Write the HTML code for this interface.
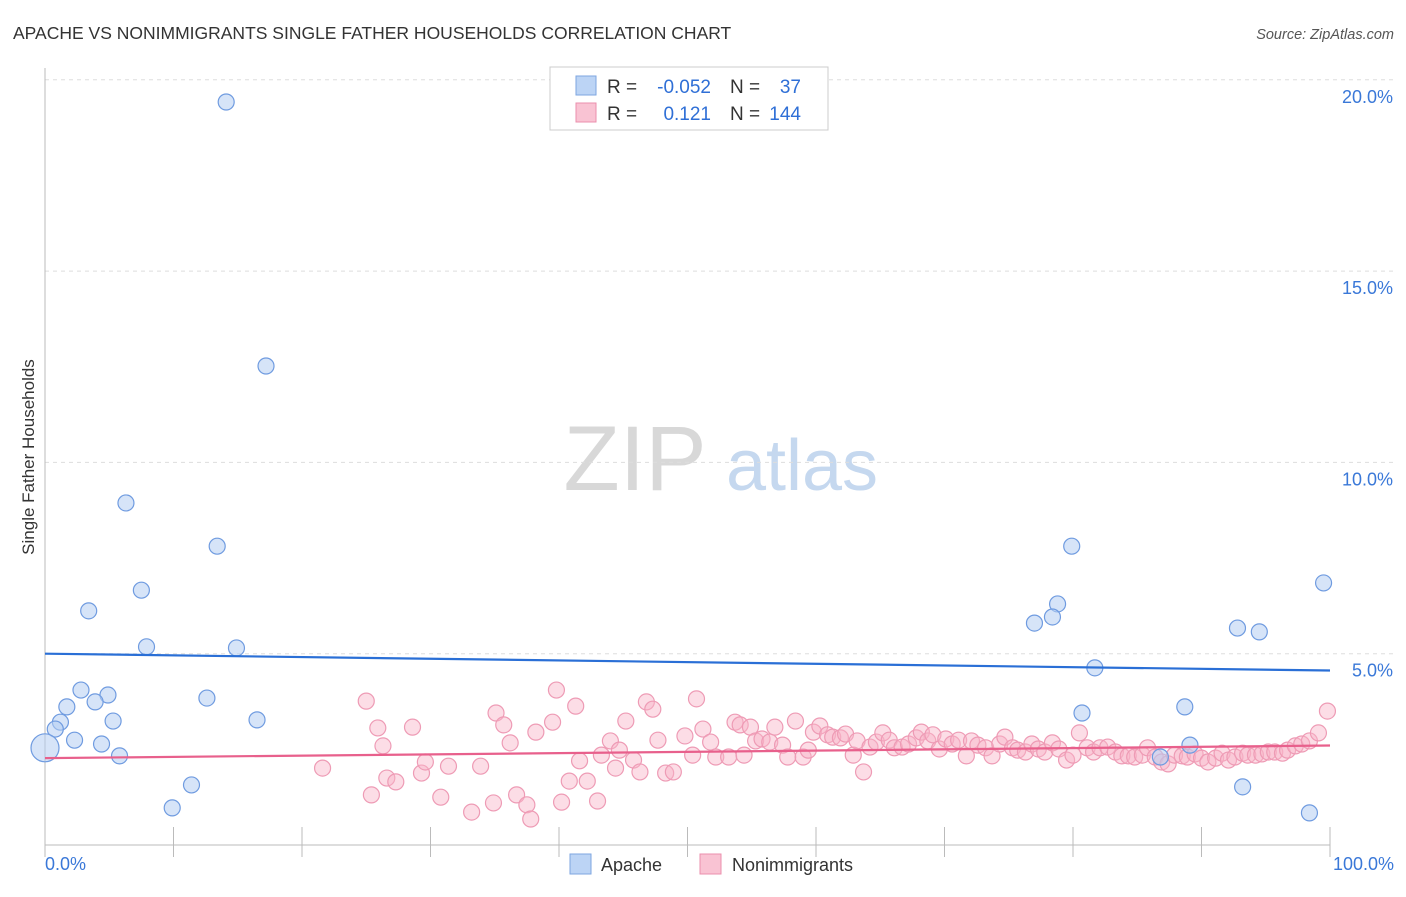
<!DOCTYPE html>
<html><head><meta charset="utf-8"><style>
body{margin:0;background:#fff;font-family:"Liberation Sans",sans-serif;}
svg text{font-family:"Liberation Sans",sans-serif;}
</style></head><body>
<svg id="chart" width="1406" height="892" xmlns="http://www.w3.org/2000/svg">
<text x="13" y="39" font-size="17.5" fill="#333">APACHE VS NONIMMIGRANTS SINGLE FATHER HOUSEHOLDS CORRELATION CHART</text>
<text x="1394" y="39" font-size="14.5" fill="#555" text-anchor="end" font-style="italic">Source: ZipAtlas.com</text>
<g>
<text x="635" y="490" font-size="92" fill="#d8d8d8" text-anchor="middle" font-family="Liberation Serif, serif">ZIP</text>
<text x="802" y="490" font-size="72" fill="#c5d8ef" text-anchor="middle">atlas</text>
</g>
<g id="grid"></g>
<g id="axes"></g>
<text transform="translate(34,457) rotate(-90)" font-size="17" fill="#333" text-anchor="middle">Single Father Households</text>
<g id="pts"></g>
<g id="trend"></g>
<g>
<rect x="550" y="67" width="278" height="63" fill="#fff" stroke="#ccc"/>
<rect x="576" y="76" width="20" height="19" fill="#bcd4f5" stroke="#7ea6e0"/>
<rect x="576" y="103" width="20" height="19" fill="#f9c3d3" stroke="#eb8fac"/>
<text x="607" y="93" font-size="19" fill="#333">R = </text><text x="711" y="93" font-size="19" fill="#2f6fd6" text-anchor="end">-0.052</text>
<text x="730" y="93" font-size="19" fill="#333">N = </text><text x="801" y="93" font-size="19" fill="#2f6fd6" text-anchor="end">37</text>
<text x="607" y="120" font-size="19" fill="#333">R = </text><text x="711" y="120" font-size="19" fill="#2f6fd6" text-anchor="end">0.121</text>
<text x="730" y="120" font-size="19" fill="#333">N = </text><text x="801" y="120" font-size="19" fill="#2f6fd6" text-anchor="end">144</text>
</g>
<g>
<rect x="570" y="854" width="21" height="20" fill="#bcd4f5" stroke="#7ea6e0"/>
<text x="601" y="871" font-size="18" fill="#333">Apache</text>
<rect x="700" y="854" width="21" height="20" fill="#f9c3d3" stroke="#eb8fac"/>
<text x="732" y="871" font-size="18" fill="#333">Nonimmigrants</text>
</g>
</svg>
<script>
const yTicks=[5,10,15,20];
const yTickLabels=["5.0%","10.0%","15.0%","20.0%"];
const xTickLabels=["0.0%","100.0%"];
const apacheX=[14.1,17.2,6.3,13.4,7.5,3.4,7.9,14.9,2.8,4.9,1.7,3.9,12.6,1.2,0.8,5.3,16.5,2.3,4.4,5.8,11.4,9.9,0,79.9,78.8,78.4,77.0,81.7,80.7,88.7,89.1,86.8,92.8,94.5,99.5,93.2,98.4];
const apacheY=[19.42,12.52,8.94,7.81,6.66,6.12,5.18,5.15,4.05,3.92,3.61,3.74,3.84,3.21,3.03,3.24,3.27,2.74,2.64,2.33,1.57,0.97,2.54,7.81,6.30,5.96,5.80,4.63,3.45,3.61,2.61,2.30,5.67,5.57,6.85,1.52,0.84];
const nonX=[21.6,25.0,25.4,25.9,26.3,26.6,27.3,28.6,29.3,29.6,30.8,31.4,33.2,33.9,34.9,35.1,35.7,36.2,36.7,37.5,37.8,38.2,39.5,39.8,40.2,40.8,41.3,41.6,42.2,43.0,43.3,44.0,44.4,44.7,45.2,45.8,46.3,46.8,47.3,47.7,48.3,48.9,49.8,50.4,50.7,51.2,51.8,52.2,53.2,53.7,54.1,54.4,54.9,55.3,55.8,56.4,56.8,57.4,57.8,58.4,59.0,59.4,59.8,60.3,60.9,61.3,61.9,62.3,62.9,63.2,63.7,64.2,64.7,65.2,65.7,66.1,66.7,67.2,67.8,68.2,68.7,69.1,69.6,70.1,70.6,71.1,71.7,72.1,72.6,73.2,73.7,74.3,74.7,75.3,75.7,76.3,76.8,77.3,77.8,78.4,78.9,79.5,80.0,80.5,81.1,81.6,82.1,82.7,83.3,83.8,84.3,84.8,85.4,85.8,86.4,86.9,87.4,87.9,88.5,88.9,89.5,90.0,90.5,91.1,91.6,92.1,92.6,93.2,93.6,94.2,94.7,95.2,95.7,96.3,96.7,97.3,97.8,98.4,99.1,99.8];
const nonY=[2.01,3.76,1.31,3.06,2.59,1.75,1.65,3.08,1.88,2.17,1.25,2.06,0.86,2.06,1.10,3.45,3.14,2.67,1.31,1.05,0.68,2.95,3.21,4.05,1.12,1.67,3.63,2.20,1.67,1.15,2.35,2.72,2.01,2.48,3.24,2.22,1.91,3.74,3.55,2.74,1.88,1.91,2.85,2.35,3.82,3.03,2.69,2.30,2.30,3.21,3.14,2.35,3.08,2.72,2.77,2.69,3.08,2.61,2.30,3.24,2.30,2.48,2.95,3.11,2.88,2.82,2.80,2.90,2.35,2.72,1.91,2.56,2.69,2.93,2.74,2.54,2.56,2.64,2.80,2.95,2.72,2.88,2.51,2.77,2.64,2.74,2.33,2.72,2.61,2.54,2.33,2.64,2.82,2.54,2.48,2.43,2.64,2.51,2.43,2.67,2.51,2.22,2.35,2.93,2.54,2.43,2.54,2.56,2.43,2.33,2.33,2.30,2.35,2.54,2.30,2.17,2.12,2.35,2.33,2.30,2.38,2.27,2.17,2.27,2.40,2.22,2.30,2.40,2.35,2.35,2.38,2.43,2.43,2.40,2.48,2.59,2.64,2.72,2.93,3.50];
const apacheTrend=[5.00,4.56];
const nonTrend=[2.27,2.60];
const NS="http://www.w3.org/2000/svg";
const X0=45,X1=1330,Y0=845,PX5=191.3;
const sx=v=>X0+(X1-X0)*v/100;
const sy=v=>Y0-PX5*v/5;
function mk(tag,attrs,parent){const e=document.createElementNS(NS,tag);for(const k in attrs)e.setAttribute(k,attrs[k]);document.getElementById(parent).appendChild(e);return e;}
yTicks.forEach((t,i)=>{
 const g=mk('line',{x1:X0,x2:1394,y1:sy(t),y2:sy(t),stroke:'#ddd','stroke-dasharray':'4,4'},'grid');
 
 
 const l=mk('text',{x:1393,y:sy(t)+23,'font-size':18,fill:'#3a78d8','text-anchor':'end'},'axes');
 l.textContent=yTickLabels[i];
 
 
});
const ax=mk('line',{x1:X0,x2:X0,y1:68,y2:Y0,stroke:'#bbb'},'axes');


const bx=mk('line',{x1:X0,x2:X1,y1:Y0,y2:Y0,stroke:'#bbb'},'axes');


for(let i=0;i<=10;i++){const t=mk('line',{x1:sx(i*10),x2:sx(i*10),y1:Y0-18,y2:Y0+12,stroke:'#bbb'},'axes');
 
 }
[[0,'start',45],[1,'end',1394]].forEach(([i,a,x])=>{const t=mk('text',{x:x,y:870,'font-size':18,fill:'#3a78d8','text-anchor':a},'axes');t.textContent=xTickLabels[i];
 
 });
nonX.forEach((v,i)=>{const c=mk('circle',{cx:sx(v),cy:sy(nonY[i]),r:8,fill:'rgba(248,180,200,0.45)',stroke:'#ee9bb5','stroke-width':1.2},'pts');
 
 });
apacheX.forEach((v,i)=>{const c=mk('circle',{cx:sx(v),cy:sy(apacheY[i]),r:(v===0?14:8),fill:'rgba(180,205,242,0.55)',stroke:'#6f9be0','stroke-width':1.2},'pts');
 
 });
const t1=mk('line',{x1:sx(0),x2:sx(100),y1:sy(apacheTrend[0]),y2:sy(apacheTrend[1]),stroke:'#2a6fd6','stroke-width':2.2},'trend');


const t2=mk('line',{x1:sx(0),x2:sx(100),y1:sy(nonTrend[0]),y2:sy(nonTrend[1]),stroke:'#e8608c','stroke-width':2.2},'trend');


</script>
</body></html>
